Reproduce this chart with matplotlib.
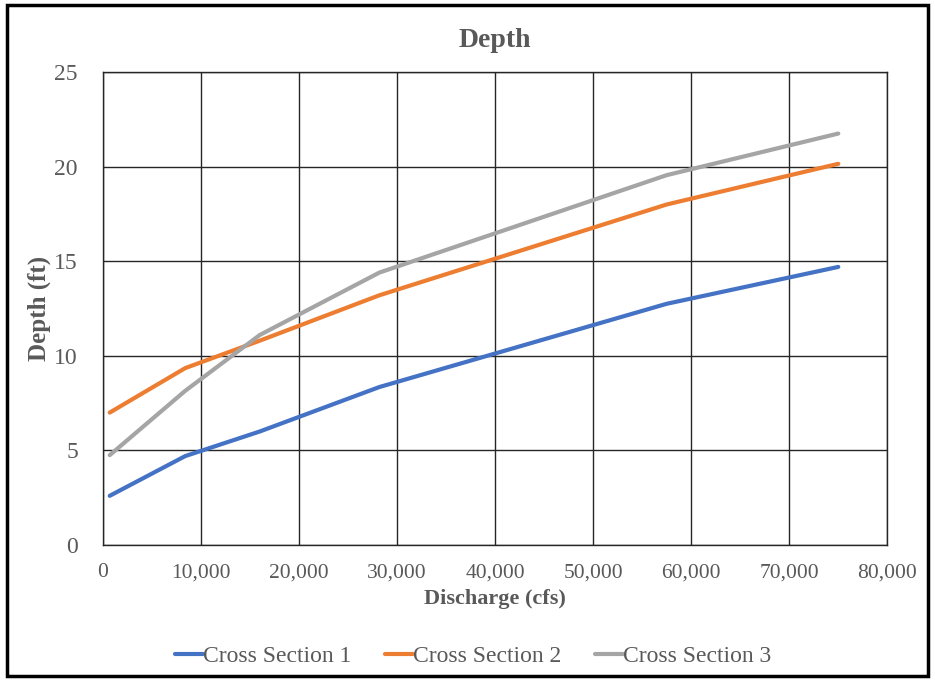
import matplotlib.pyplot as plt
from matplotlib.patches import Rectangle

# discharge (cfs) and depth (ft)
discharge = [700, 8400, 16000, 28200, 57500, 75000]
cs1 = [2.6, 4.7, 6.0, 8.35, 12.75, 14.7]
cs2 = [7.0, 9.35, 10.8, 13.2, 18.0, 20.15]
cs3 = [4.75, 8.15, 11.1, 14.4, 19.55, 21.75]
names = ['Cross Section 1', 'Cross Section 2', 'Cross Section 3']
colors = ['#4472C4', '#ED7D31', '#A5A5A5']
xticks = [0, 10000, 20000, 30000, 40000, 50000, 60000, 70000, 80000]
yticks = [0, 5, 10, 15, 20, 25]

plt.rcParams['font.family'] = ['Liberation Serif', 'DejaVu Serif']
txt = '#595959'

fig = plt.figure(figsize=(9.35, 6.81), dpi=100)
ax = fig.add_axes([0.110, 0.1997, 0.839, 0.6945])

for ys, name, c in zip([cs1, cs2, cs3], names, colors):
    ax.plot(discharge, ys, color=c, lw=3, label=name, solid_capstyle='round')

ax.set_xlim(0, 80000)
ax.set_ylim(0, 25)
ax.set_xticks(xticks)
ax.set_xticklabels(['{:,}'.format(v) for v in xticks])
ax.set_yticks(yticks)
ax.grid(True, color='#262626', lw=1)
ax.set_axisbelow(True)
for s in ax.spines.values():
    s.set_color('#262626')
    s.set_linewidth(1)
ax.tick_params(length=0, colors=txt)
ax.tick_params(axis='x', labelsize=15.5, pad=13)
ax.tick_params(axis='y', labelsize=17, pad=18)

ax.set_title('Depth', fontsize=20, fontweight='bold', color=txt, pad=18)
ax.set_xlabel('Discharge (cfs)', fontsize=16, fontweight='bold', color=txt, labelpad=5)
ax.set_ylabel('Depth (ft)', fontsize=18, fontweight='bold', color=txt, labelpad=2)

leg = ax.legend(loc='center', bbox_to_anchor=(0.472, -0.235), ncol=3, frameon=False,
                fontsize=17, handlelength=1.2, handletextpad=0.0, columnspacing=1.4)
for t in leg.get_texts():
    t.set_color(txt)

fig.patches.append(Rectangle((0.008, 0.008), 0.984, 0.984, transform=fig.transFigure,
                             fill=False, edgecolor='black', lw=2.5))

fig.savefig('out.png', dpi=100)
